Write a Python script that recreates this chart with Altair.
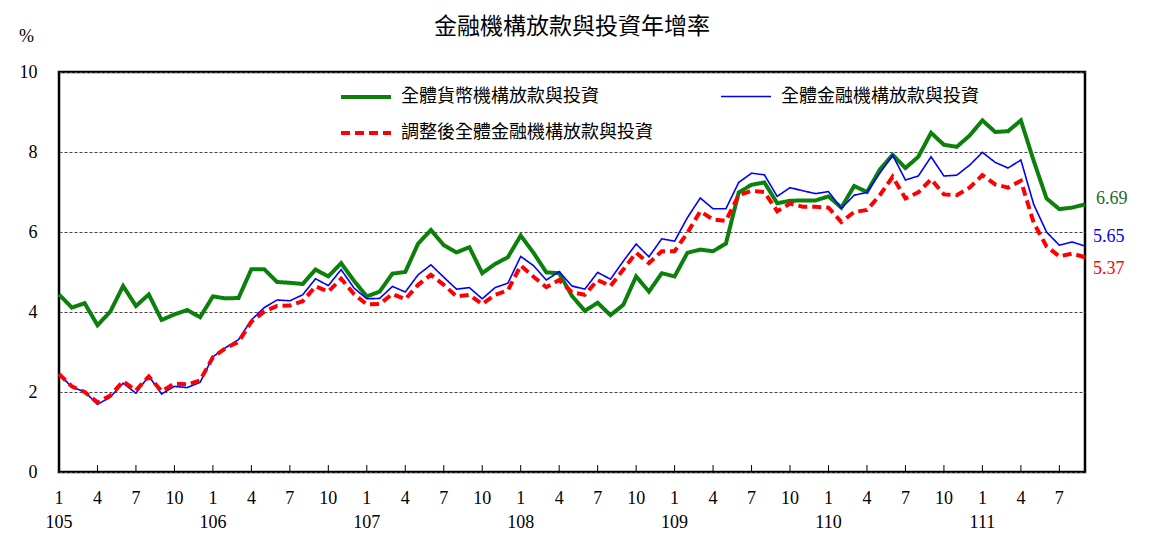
import altair as alt
import pandas as pd

# ---- data (month index 0 = 105/1 ... 80 = 111/9) ----
title_text = "金融機構放款與投資年增率"
series_names = ["全體貨幣機構放款與投資", "全體金融機構放款與投資", "調整後全體金融機構放款與投資"]
year_start = 105
n_months = 81

green = [4.44, 4.11, 4.22, 3.67, 4.01, 4.65, 4.15, 4.44, 3.80, 3.94, 4.05, 3.87,
         4.39, 4.34, 4.35, 5.07, 5.07, 4.75, 4.73, 4.70, 5.06, 4.89, 5.22, 4.78,
         4.39, 4.51, 4.96, 5.00, 5.71, 6.05, 5.67, 5.49, 5.62, 4.97, 5.20, 5.37,
         5.91, 5.48, 4.99, 4.97, 4.40, 4.03, 4.23, 3.92, 4.18, 4.89, 4.51, 4.97,
         4.89, 5.48, 5.56, 5.52, 5.71, 6.99, 7.18, 7.24, 6.72, 6.78, 6.79, 6.79,
         6.89, 6.61, 7.15, 7.00, 7.56, 7.93, 7.60, 7.88, 8.48, 8.18, 8.13, 8.41,
         8.79, 8.50, 8.52, 8.79, 7.78, 6.84, 6.57, 6.61, 6.69]
blue = [2.46, 2.12, 2.01, 1.69, 1.87, 2.22, 1.97, 2.40, 1.95, 2.14, 2.11, 2.24,
        2.88, 3.11, 3.31, 3.80, 4.11, 4.30, 4.28, 4.43, 4.83, 4.66, 5.06, 4.60,
        4.33, 4.34, 4.64, 4.50, 4.93, 5.18, 4.87, 4.57, 4.61, 4.33, 4.61, 4.72,
        5.39, 5.16, 4.80, 5.01, 4.65, 4.57, 4.99, 4.82, 5.27, 5.70, 5.38, 5.83,
        5.77, 6.36, 6.85, 6.58, 6.58, 7.24, 7.47, 7.43, 6.89, 7.11, 7.03, 6.96,
        7.01, 6.59, 6.92, 6.99, 7.47, 7.92, 7.30, 7.40, 7.88, 7.40, 7.42, 7.67,
        7.99, 7.74, 7.60, 7.80, 6.69, 6.00, 5.67, 5.75, 5.65]
red = [2.45, 2.14, 2.00, 1.74, 1.91, 2.27, 2.04, 2.39, 2.02, 2.21, 2.19, 2.29,
       2.87, 3.10, 3.25, 3.76, 4.01, 4.15, 4.16, 4.27, 4.64, 4.51, 4.83, 4.45,
       4.19, 4.20, 4.45, 4.32, 4.68, 4.93, 4.68, 4.39, 4.43, 4.20, 4.43, 4.54,
       5.16, 4.88, 4.62, 4.80, 4.49, 4.43, 4.80, 4.65, 5.06, 5.48, 5.22, 5.52,
       5.52, 5.98, 6.52, 6.31, 6.28, 6.92, 7.03, 7.00, 6.52, 6.71, 6.63, 6.63,
       6.61, 6.25, 6.50, 6.55, 6.92, 7.38, 6.84, 6.99, 7.32, 6.94, 6.92, 7.11,
       7.42, 7.19, 7.11, 7.28, 6.23, 5.64, 5.39, 5.46, 5.37]

tick_months = list(range(0, n_months, 3))
y_ticks = [0, 2, 4, 6, 8, 10]

line_colors = ["#0b810b", "#0000ff", "#ff0000"]
label_colors = ["#1b6a2c", "#0000ff", "#ff0000"]
line_widths = [4, 1.6, 4]
line_dashes = [[1, 0], [1, 0], [9, 5]]

rows = []
for name, vals in zip(series_names, [green, blue, red]):
    for i, v in enumerate(vals):
        rows.append({"t": i, "v": v, "s": name})
df = pd.DataFrame(rows)

# legend grid is filled column by column: green, red | blue
legend_order = [0, 2, 1]
leg_domain = [series_names[k] for k in legend_order]

W, H = 1026, 400
SERIF = "Liberation Serif"
CJK = "Noto Sans CJK TC"

x_scale = alt.Scale(domain=[0, n_months - 1], nice=False, zero=False)
y_scale = alt.Scale(domain=[0, 10], nice=False)

x_enc = alt.X("t:Q", scale=x_scale,
              axis=alt.Axis(values=tick_months, labels=False, ticks=False,
                            domain=False, grid=False, title=None))
y_enc = alt.Y("v:Q", scale=y_scale,
              axis=alt.Axis(values=y_ticks, ticks=False, domain=False, grid=True,
                            gridDash=[3, 2], gridColor="#444444", gridWidth=1,
                            labelFont=SERIF, labelFontSize=18, labelColor="black",
                            labelPadding=22, title="%", titleAngle=0, titleX=-33,
                            titleY=-36, titleAlign="center", titleBaseline="middle",
                            titleFont=SERIF, titleFontSize=18, titleFontWeight="normal",
                            titleColor="black"))

legend = alt.Legend(title=None, orient="none", legendX=280, legendY=-2, columns=2,
                    columnPadding=64, rowPadding=-25, symbolType="stroke",
                    symbolSize=2500, labelFont=CJK, labelFontSize=18,
                    labelColor="black", labelLimit=0, labelOffset=8, padding=0)

color_enc = alt.Color("s:N", scale=alt.Scale(domain=leg_domain,
                                             range=[line_colors[k] for k in legend_order]),
                      legend=legend)
dash_enc = alt.StrokeDash("s:N", scale=alt.Scale(domain=leg_domain,
                                                 range=[line_dashes[k] for k in legend_order]),
                          legend=legend)
width_enc = alt.StrokeWidth("s:N", scale=alt.Scale(type="ordinal", domain=leg_domain,
                                                   range=[line_widths[k] for k in legend_order]),
                            legend=legend)

line_layers = []
for name in series_names:
    line_layers.append(
        alt.Chart(df).transform_filter(alt.datum.s == name).mark_line().encode(
            x=x_enc, y=y_enc, color=color_enc, strokeDash=dash_enc,
            strokeWidth=width_enc, order=alt.Order("t:Q"))
    )

ticks_df = pd.DataFrame({"t": tick_months})
ticks_df["m"] = [str(t % 12 + 1) for t in tick_months]
ticks = alt.Chart(ticks_df).mark_rule(color="black", strokeWidth=1).encode(
    x=alt.X("t:Q", scale=x_scale),
    y=alt.value(H),
    y2=alt.value(H - 7),
)
month_labels = alt.Chart(ticks_df).mark_text(
    font=SERIF, fontSize=18, color="black", baseline="middle", align="center").encode(
    x=alt.X("t:Q", scale=x_scale), y=alt.value(H + 27), text="m:N")

year_df = pd.DataFrame({"t": list(range(0, n_months, 12))})
year_df["yr"] = [str(year_start + t // 12) for t in year_df["t"]]
year_labels = alt.Chart(year_df).mark_text(
    font=SERIF, fontSize=18, color="black", baseline="middle", align="center").encode(
    x=alt.X("t:Q", scale=x_scale), y=alt.value(H + 51), text="yr:N")

end_layers = []
dys = [-5, -9, 12]
dxs = [11, 8, 8]
for name, vals, col, dy, dx in zip(series_names, [green, blue, red], label_colors, dys, dxs):
    d = pd.DataFrame({"t": [n_months - 1], "v": [vals[-1]],
                      "lab": [f"{vals[-1]:.2f}"]})
    end_layers.append(
        alt.Chart(d).mark_text(align="left", baseline="middle", font=SERIF,
                               fontSize=18, color=col, dx=dx, dy=dy).encode(
            x=alt.X("t:Q", scale=x_scale), y=alt.Y("v:Q", scale=y_scale),
            text="lab:N")
    )

title_df = pd.DataFrame({"txt": [title_text]})
title_mark = alt.Chart(title_df).mark_text(
    font=CJK, fontSize=23, color="black", align="center", baseline="middle").encode(
    x=alt.value(W / 2), y=alt.value(-45), text="txt:N")

chart = alt.layer(*line_layers, ticks, month_labels, year_labels, *end_layers,
                  title_mark).properties(
    width=W, height=H,
    autosize=alt.AutoSizeParams(type="none"),
    padding={"left": 51, "top": 64, "right": 55, "bottom": 70},
).configure_view(stroke="black", strokeWidth=2.5)

chart.save("out.html", embed_options={"renderer": "svg", "actions": False})
